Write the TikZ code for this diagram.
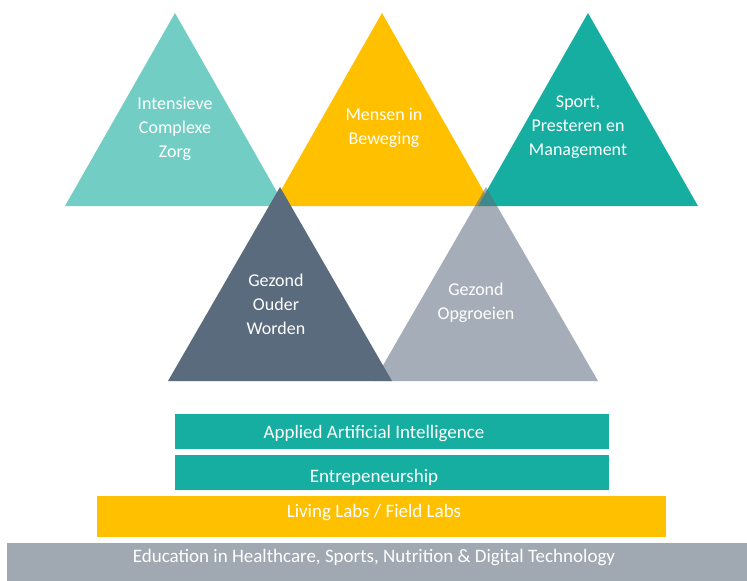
\documentclass[tikz,border=0pt]{standalone}
\usepackage{fontspec}
\setmainfont{Carlito}
\usetikzlibrary{positioning}
\definecolor{zorg}{RGB}{114,206,196}
\definecolor{beweging}{RGB}{255,192,0}
\definecolor{sport}{RGB}{21,174,160}
\definecolor{ouder}{RGB}{91,107,126}
\definecolor{education}{RGB}{160,168,178}

\begin{document}
\begin{tikzpicture}
    [
        x=1pt, y=-1pt,
        tritext/.style={text=white, align=center, font=\fontsize{18}{24}\selectfont},
        bar/.style={inner sep=0pt, minimum height=35pt},
        bartext/.style={text=white, font=\fontsize{19}{22}\selectfont}
    ]
    \useasboundingbox (0,0) rectangle (747,581);

    % Top row
    \begin{scope}
        \fill[zorg] (175,13) -- (285,206) -- (65,206) -- cycle;
        \fill[beweging] (382,13) -- (492,206) -- (272,206) -- cycle;
        \fill[sport] (588,13) -- (698,206) -- (478,206) -- cycle;

        \node[tritext] (zorg_t) at (175,129) {Intensieve\\Complexe\\Zorg};
        \node[tritext] (beweging_t) at (384,128) {Mensen in\\Beweging};
        \node[tritext] (sport_t) at (578,127) {Sport,\\Presteren en\\Management};
    \end{scope}

    % Bottom row
    \begin{scope}
        \fill[ouder] (280,187) -- (392,381) -- (168,381) -- cycle;
        \fill[ouder, opacity=0.55] (486,187) -- (598,381) -- (374,381) -- cycle;

        \node[tritext] (ouder_t) at (276,304) {Gezond\\Ouder\\Worden};
        \node[tritext] (opgroeien_t) at (476,303) {Gezond\\Opgroeien};
    \end{scope}

    % Bars
    \node[bar, fill=sport, minimum width=434pt] (ai) at (392,431.5) {};
    \node[bar, fill=sport, minimum width=434pt, below=6pt of ai] (ent) {};
    \node[bar, fill=beweging, minimum width=569pt, minimum height=41pt] (labs) at (381.5,516.5) {};
    \node[bar, fill=education, minimum width=740pt, minimum height=38pt] (edu) at (377,562) {};

    \node[bartext] (ai_t) at (374,434) {Applied Artificial Intelligence};
    \node[bartext] (ent_t) at (374,477) {Entrepeneurship};
    \node[bartext] (labs_t) at (374,513) {Living Labs / Field Labs};
    \node[bartext] (edu_t) at (374,558) {Education in Healthcare, Sports, Nutrition \& Digital Technology};

\end{tikzpicture}
\end{document}
